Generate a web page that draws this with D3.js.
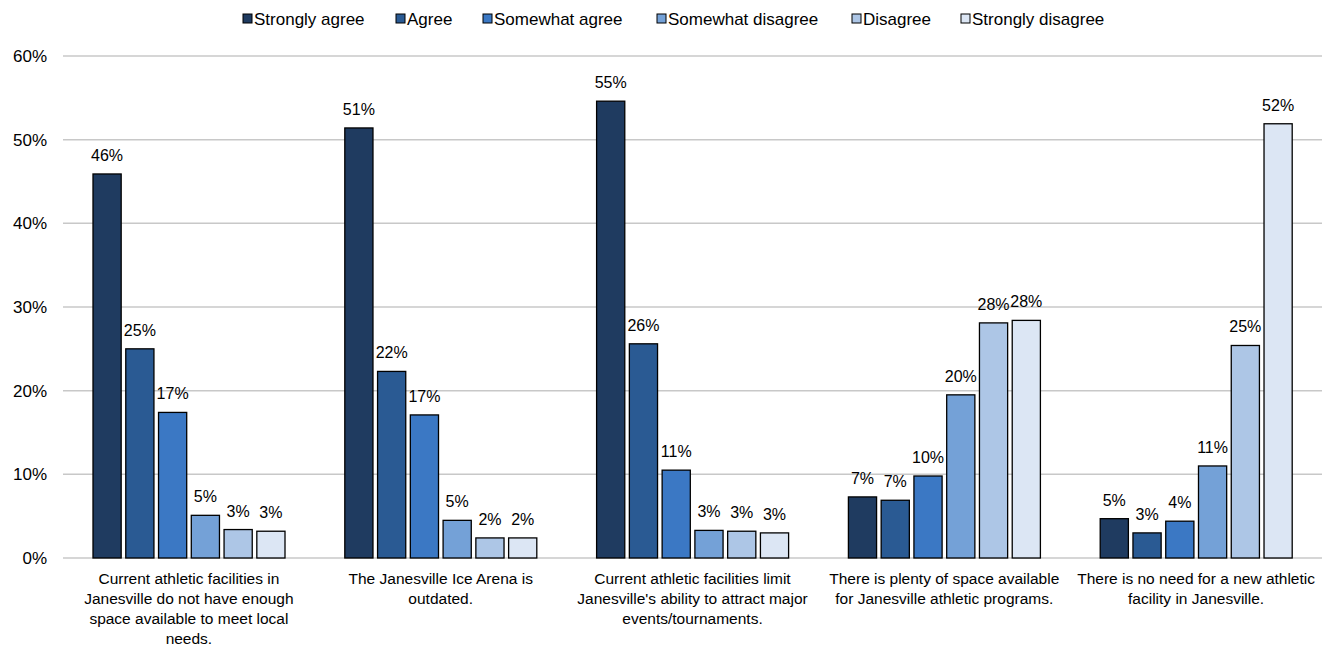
<!DOCTYPE html>
<html>
  <head>
    <script src="https://d3js.org/d3.v7.min.js"></script>
    <style>
      body { margin: 0; background: #fff; }
      text { font-family: "Liberation Sans", Arial, sans-serif; fill: #000; }
    </style>
  </head>
  <body>
    <svg id="chart" width="1332" height="651"></svg>

  <script>
  // Data
  var categories = [
    ["Current athletic facilities in", "Janesville do not have enough", "space available to meet local", "needs."],
    ["The Janesville Ice Arena is", "outdated."],
    ["Current athletic facilities limit", "Janesville's ability to attract major", "events/tournaments."],
    ["There is plenty of space available", "for Janesville athletic programs."],
    ["There is no need for a new athletic", "facility in Janesville."]
  ];
  var seriesNames = ["Strongly agree", "Agree", "Somewhat agree", "Somewhat disagree", "Disagree", "Strongly disagree"];
  var stronglyAgree    = [45.9, 51.4, 54.6, 7.3, 4.7];
  var agree            = [25.0, 22.3, 25.6, 6.9, 3.0];
  var somewhatAgree    = [17.4, 17.1, 10.5, 9.8, 4.4];
  var somewhatDisagree = [5.1, 4.5, 3.3, 19.5, 11.0];
  var disagree         = [3.4, 2.4, 3.2, 28.1, 25.4];
  var stronglyDisagree = [3.2, 2.4, 3.0, 28.4, 51.9];
  var yTicks = [0, 10, 20, 30, 40, 50, 60];
  var colors = ["#1f3b60", "#2a5a93", "#3b78c4", "#74a1d7", "#adc6e6", "#dce6f4"];

  var seriesValues = [stronglyAgree, agree, somewhatAgree, somewhatDisagree, disagree, stronglyDisagree];

  var svg = d3.select("#chart");
  var plotLeft = 63, plotRight = 1322, plotTop = 56, plotBottom = 558;

  // scales
  var x0 = d3.scaleBand().domain(d3.range(categories.length)).range([plotLeft, plotRight]);
  var x1 = d3.scaleBand().domain(d3.range(seriesNames.length)).range([30, 222]).paddingInner(0.14);
  var y = d3.scaleLinear().domain([0, 60]).range([plotBottom, plotTop]);

  // gridlines
  svg.append("g")
    .selectAll("line")
    .data(yTicks)
    .enter().append("line")
      .attr("x1", plotLeft)
      .attr("x2", plotRight)
      .attr("y1", function(d) { return y(d); })
      .attr("y2", function(d) { return y(d); })
      .attr("stroke", "#c8c8c8")
      .attr("stroke-width", 1.5);

  // y axis labels
  svg.append("g")
    .selectAll("text")
    .data(yTicks)
    .enter().append("text")
      .attr("x", 47)
      .attr("y", function(d) { return y(d); })
      .attr("dy", "0.35em")
      .attr("text-anchor", "end")
      .style("font-size", "17px")
      .text(function(d) { return d + "%"; });

  // bars
  var groups = svg.append("g")
    .selectAll("g")
    .data(categories)
    .enter().append("g")
      .attr("transform", function(d, i) { return "translate(" + x0(i) + ",0)"; });

  groups.each(function(c, ci) {
    var g = d3.select(this);
    var rows = seriesValues.map(function(vals, si) { return {s: si, v: vals[ci]}; });
    g.selectAll("rect")
      .data(rows)
      .enter().append("rect")
        .attr("x", function(d) { return x1(d.s); })
        .attr("width", x1.bandwidth())
        .attr("y", function(d) { return y(d.v); })
        .attr("height", function(d) { return plotBottom - y(d.v); })
        .attr("fill", function(d) { return colors[d.s]; })
        .attr("stroke", "#000")
        .attr("stroke-width", 1.3);
    g.selectAll("text.val")
      .data(rows)
      .enter().append("text")
        .attr("class", "val")
        .attr("x", function(d) { return x1(d.s) + x1.bandwidth() / 2; })
        .attr("y", function(d) { return y(d.v) - 13; })
        .attr("text-anchor", "middle")
        .style("font-size", "16px")
        .text(function(d) { return Math.round(d.v) + "%"; });
  });

  // category labels
  groups.append("text")
    .attr("x", x0.bandwidth() / 2)
    .attr("y", 584)
    .attr("text-anchor", "middle")
    .style("font-size", "15.5px")
    .selectAll("tspan")
    .data(function(d) { return d; })
    .enter().append("tspan")
      .attr("x", x0.bandwidth() / 2)
      .attr("dy", function(d, i) { return i === 0 ? 0 : 20; })
      .text(function(d) { return d; });

  // legend
  var legendX = [243, 396, 483, 657, 852, 961];
  var legend = svg.append("g")
    .selectAll("g")
    .data(seriesNames)
    .enter().append("g")
      .attr("transform", function(d, i) { return "translate(" + legendX[i] + ",19)"; });
  legend.append("rect")
    .attr("x", 0)
    .attr("y", -5)
    .attr("width", 9)
    .attr("height", 9)
    .attr("fill", function(d, i) { return colors[i]; })
    .attr("stroke", "#000")
    .attr("stroke-width", 1);
  legend.append("text")
    .attr("x", 11)
    .attr("y", 0)
    .attr("dy", "0.35em")
    .style("font-size", "17px")
    .text(function(d) { return d; });
  </script>
  </body>
</html>
